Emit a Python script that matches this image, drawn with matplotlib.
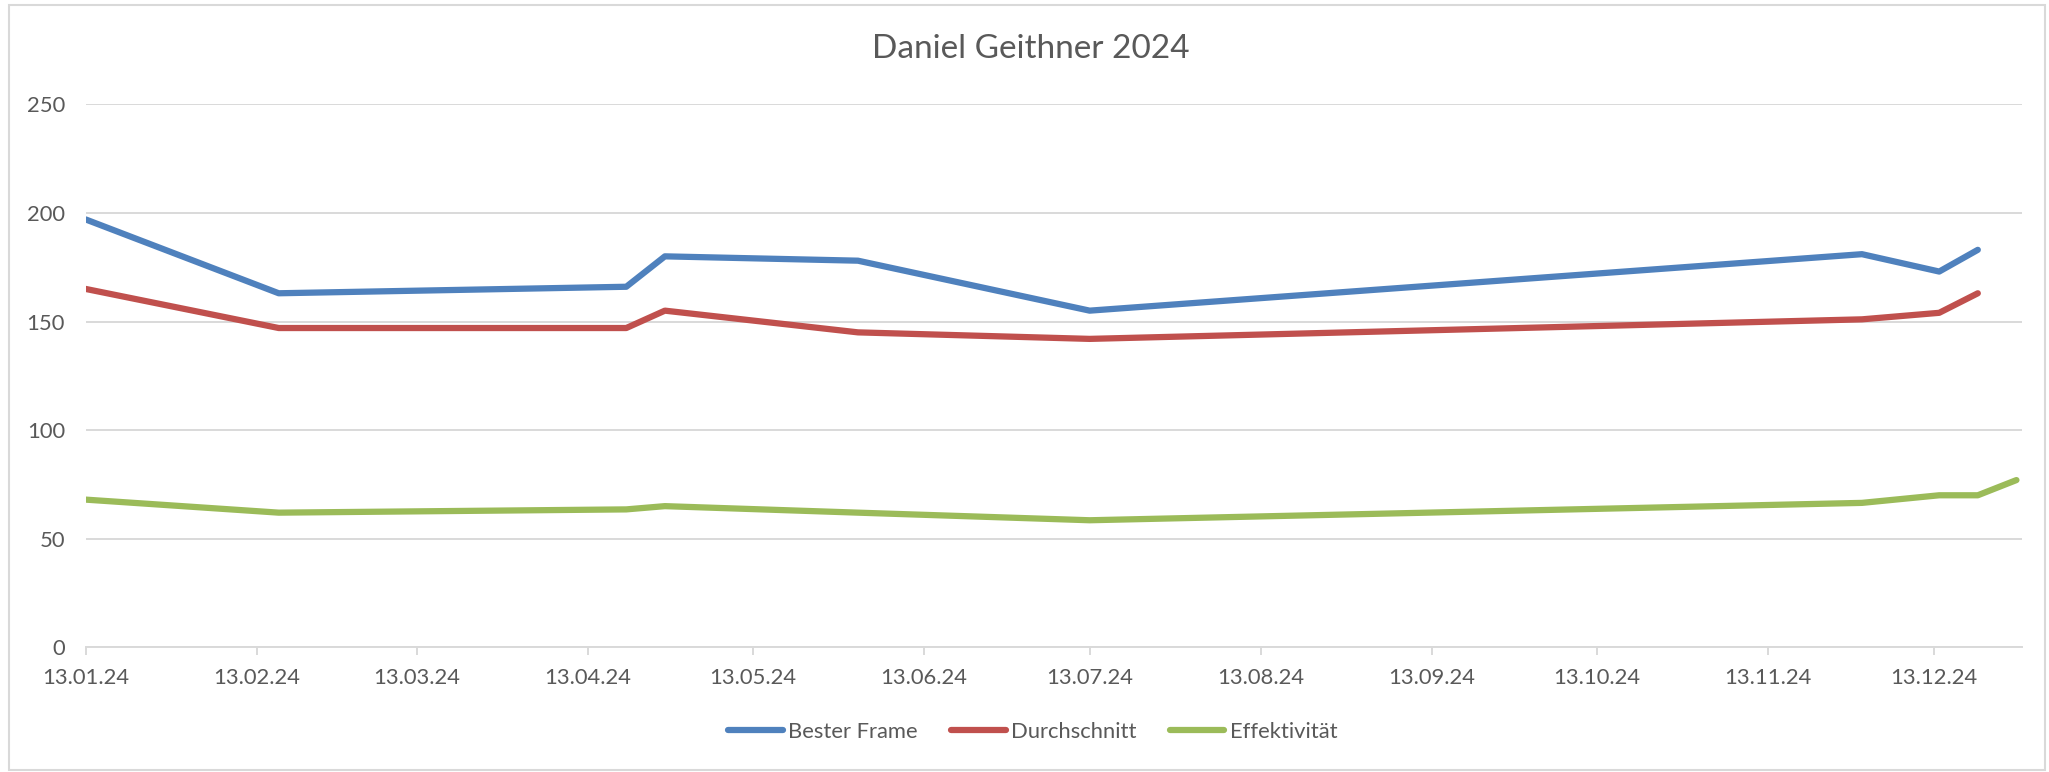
import numpy as np
import matplotlib.pyplot as plt
import matplotlib.dates as mdates
from matplotlib.patches import Rectangle
import datetime as dt

# data (all Saturdays in 2024)
dates = [dt.date(2024, 1, 13), dt.date(2024, 2, 17), dt.date(2024, 4, 20),
         dt.date(2024, 4, 27), dt.date(2024, 6, 1), dt.date(2024, 7, 13),
         dt.date(2024, 11, 30), dt.date(2024, 12, 14), dt.date(2024, 12, 21),
         dt.date(2024, 12, 28)]
bester_frame = [197, 163, 166, 180, 178, 155, 181, 173, 183, np.nan]
durchschnitt = [165, 147, 147, 155, 145, 142, 151, 154, 163, np.nan]
effektivitaet = [68, 62, 63.5, 65, 62, 58.5, 66.5, 70, 70, 77]

series_names = ["Bester Frame", "Durchschnitt", "Effektivität"]
colors = ["#4F81BD", "#C0504D", "#9BBB59"]
text_col = "#595959"
grid_col = "#D9D9D9"

plt.rcParams['font.family'] = ['Lato', 'DejaVu Sans']

fig = plt.figure(figsize=(20.49, 7.72), dpi=100)
ax = fig.add_axes([0.0418, 0.1615, 0.945, 0.7034])

#outer chart border
fig.patches.append(Rectangle((0.0045, 0.003), 0.9935, 0.990, transform=fig.transFigure,
                             fill=False, edgecolor=grid_col, linewidth=1.5))

for vals, name, c in zip([bester_frame, durchschnitt, effektivitaet], series_names, colors):
    ax.plot(dates, vals, color=c, lw=4.5, label=name,
            solid_capstyle='round', solid_joinstyle='round')

ax.set_ylim(0, 250)
ax.set_yticks(np.arange(0, 251, 50))
ax.set_xlim(dt.date(2024, 1, 13), dt.date(2024, 12, 29))
ax.xaxis.set_major_locator(mdates.MonthLocator(bymonthday=13))
ax.xaxis.set_major_formatter(mdates.DateFormatter('%d.%m.%y'))

ax.grid(axis='y', color=grid_col, lw=1.4)
ax.set_axisbelow(True)
for s in ['top', 'right', 'left']:
    ax.spines[s].set_visible(False)
ax.spines['bottom'].set_color(grid_col)
ax.spines['bottom'].set_linewidth(1.4)

ax.tick_params(axis='y', length=0, pad=15, labelsize=15.8, labelcolor=text_col)
ax.tick_params(axis='x', length=6, width=1.4, color=grid_col, pad=9,
               labelsize=15.8, labelcolor=text_col)

fig.text(0.503, 0.937, "Daniel Geithner 2024", ha='center', va='center',
         fontsize=24, color=text_col)

leg = fig.legend(loc='center', bbox_to_anchor=(0.504, 0.052), ncol=3, frameon=False,
                 fontsize=15.8, handlelength=2.5, handletextpad=0.25, columnspacing=1.5)
for t in leg.get_texts():
    t.set_color(text_col)
for h in leg.get_lines():
    h.set_solid_capstyle('round')

fig.savefig("out.png", dpi=100)
